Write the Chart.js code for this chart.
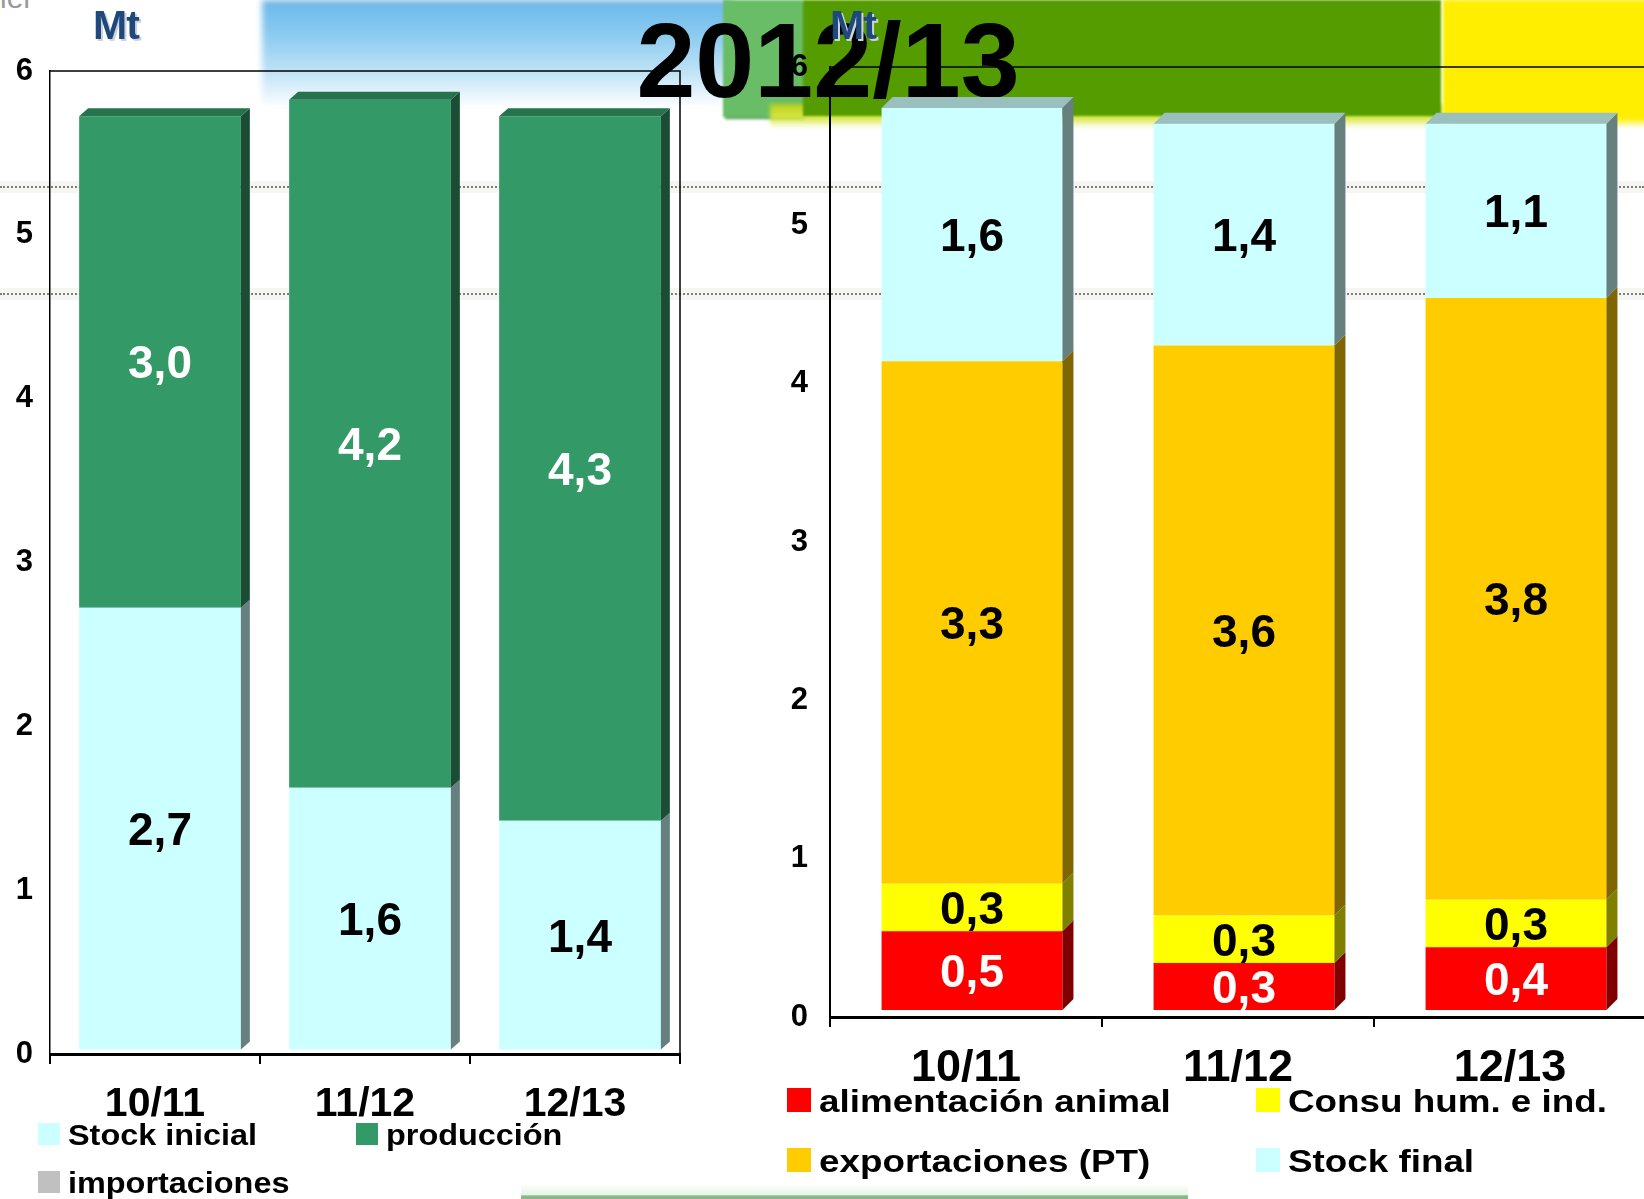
<!DOCTYPE html>
<html>
<head>
<meta charset="utf-8">
<title>2012/13</title>
<script src="https://cdn.jsdelivr.net/npm/chart.js@4.4.1/dist/chart.umd.min.js"></script>
<style>
  html, body { margin: 0; padding: 0; background: #fff; overflow: hidden; }
  body { position: relative; width: 1644px; height: 1199px; font-family: "Liberation Sans", Arial, sans-serif; }
  .deco { position: absolute; }
  #bandBlue { left: 262px; top: 0; width: 470px; height: 112px; filter: blur(3px);
    background: linear-gradient(to bottom, #7aaed8 0px, #6fbbec 6px, #8ccbf0 35px, #c4e5f7 75px, #ffffff 108px); }
  #bandLeaf { left: 723px; top: 0; width: 80px; height: 117px; background: #69bd67;
    box-shadow: 2px 2px 2px #4f9b4f; filter: blur(1px); }
  #bandGlow { left: 770px; top: 104px; width: 672px; height: 24px; filter: blur(2px);
    background: linear-gradient(to bottom, #b8cf1c, #d8e640 55%, rgba(255,255,255,0)); }
  #bandGreen { left: 803px; top: 0; width: 638px; height: 116px; background: #559c00; filter: blur(1px); }
  #bandYellow { left: 1443px; top: 0; width: 210px; height: 128px; filter: blur(1.5px);
    background: linear-gradient(to bottom, #ffee00 0px, #ffee00 118px, rgba(255,255,255,0)); }
  .rule { left: 0; width: 1644px; height: 12px; background: rgba(215,215,205,0.25); }
  .rule::after { content: ""; position: absolute; left: 0; right: 0; top: 5px; border-top: 2px dotted #7d7d7d; }
  #footLine { left: 521px; top: 1184px; width: 667px; height: 15px;
    background: linear-gradient(to bottom, rgba(255,255,255,0), #e6f5e4 70%, #8ab78a 80%, #8ab78a 100%); }
  #cut { position: absolute; left: 0; top: -17px; font-size: 30px; line-height: 1; color: #9a9a9a; }
  .wrap { position: absolute; top: 0; }
  #supplyWrap { left: 0; width: 700px; height: 1140px; }
  #useWrap { left: 760px; width: 886px; height: 1100px; }
  #title { position: absolute; left: 828px; top: 7px; transform: translateX(-50%);
    font-size: 106px; font-weight: bold; line-height: 1; color: #000; white-space: nowrap; }
  .unit { position: absolute; top: 5px; font-size: 41px; font-weight: bold; line-height: 1;
    color: #1f497d; text-shadow: 2px 2px 0 #cfd3da; letter-spacing: -1px; }
  .legend-swatch { position: absolute; }
  .legend-text { position: absolute; font-weight: bold; line-height: 1; color: #000;
    white-space: nowrap; transform-origin: left center; }
</style>
</head>
<body>
<div class="deco" id="bandBlue"></div>
<div class="deco" id="bandLeaf"></div>
<div class="deco" id="bandGlow"></div>
<div class="deco" id="bandGreen"></div>
<div class="deco" id="bandYellow"></div>
<div class="deco rule" style="top:181px"></div>
<div class="deco rule" style="top:288px"></div>
<div class="deco" id="footLine"></div>
<div id="cut">ier</div>

<div class="wrap" id="supplyWrap"><canvas id="supply" width="700" height="1140"></canvas></div>
<div id="title">2012/13</div>
<div class="wrap" id="useWrap"><canvas id="use" width="886" height="1100"></canvas></div>

<div class="unit" style="left:93px">Mt</div>
<div class="unit" style="left:830px">Mt</div>
<div id="supplyLegend"></div>
<div id="useLegend"></div>

<script>
// Campaigns on the x axis, values in Mt
const campaigns = ['10/11', '11/12', '12/13'];
const yTicks = [0, 1, 2, 3, 4, 5, 6];

// Supply: opening stock + production (+ imports)
const stockInicial = [2.7, 1.6, 1.4];
const produccion = [3.0, 4.2, 4.3];
const importaciones = [0, 0, 0];

// Uses: feed, food/industry, exports, closing stock
const alimentacionAnimal = [0.5, 0.3, 0.4];
const consumoHumano = [0.3, 0.3, 0.3];
const exportaciones = [3.3, 3.6, 3.8];
const stockFinal = [1.6, 1.4, 1.1];

const FONT = '"Liberation Sans", Arial, sans-serif';

// darken a #rrggbb colour by factor k
function shade(hex, k) {
    const n = parseInt(hex.slice(1), 16);
    const r = Math.round(((n >> 16) & 255) * k);
    const g = Math.round(((n >> 8) & 255) * k);
    const b = Math.round((n & 255) * k);
    return `rgb(${r},${g},${b})`;
}

// thin box around the plot area (top and right sides, the axes draw the rest)
const plotFrame = {
    id: 'plotFrame',
    beforeDatasetsDraw(chart) {
        const { ctx, chartArea: a } = chart;
        ctx.save();
        ctx.strokeStyle = '#000';
        ctx.lineWidth = 1.5;
        ctx.beginPath();
        ctx.moveTo(a.left, a.top);
        ctx.lineTo(a.right, a.top);
        ctx.lineTo(a.right, a.bottom);
        ctx.stroke();
        ctx.restore();
    }
};

// fake 3D: side + top faces for each stack, then the value in every segment
const depthBars = {
    id: 'depthBars',
    beforeDatasetsDraw(chart, args, opts) {
        chart.ctx.save();
        chart.ctx.translate(opts.shiftX, -opts.shiftY);
    },
    afterDatasetsDraw(chart, args, opts) {
        const ctx = chart.ctx;
        const { dx, dy } = opts;

        chart.data.labels.forEach((label, i) => {
            let top = null;
            chart.data.datasets.forEach((ds, d) => {
                if (!ds.data[i]) return;
                const bar = chart.getDatasetMeta(d).data[i].getProps(['x', 'y', 'base', 'width'], true);
                const right = bar.x + bar.width / 2;
                ctx.fillStyle = shade(ds.backgroundColor, 0.5);
                ctx.beginPath();
                ctx.moveTo(right, bar.base);
                ctx.lineTo(right, bar.y);
                ctx.lineTo(right + dx, bar.y - dy);
                ctx.lineTo(right + dx, bar.base - dy);
                ctx.closePath();
                ctx.fill();
                top = { bar, ds };
            });
            if (top) {
                const { bar, ds } = top;
                const left = bar.x - bar.width / 2;
                const right = bar.x + bar.width / 2;
                ctx.fillStyle = shade(ds.backgroundColor, 0.75);
                ctx.beginPath();
                ctx.moveTo(left, bar.y);
                ctx.lineTo(left + dx, bar.y - dy);
                ctx.lineTo(right + dx, bar.y - dy);
                ctx.lineTo(right, bar.y);
                ctx.closePath();
                ctx.fill();
            }
        });

        ctx.font = `bold ${opts.fontSize}px ${FONT}`;
        ctx.textAlign = 'center';
        ctx.textBaseline = 'alphabetic';
        chart.data.datasets.forEach((ds, d) => {
            chart.getDatasetMeta(d).data.forEach((el, i) => {
                const v = ds.data[i];
                if (!v) return;
                const { x, y, base } = el.getProps(['x', 'y', 'base'], true);
                ctx.fillStyle = ds.valueColor;
                ctx.fillText(v.toFixed(1).replace('.', ','), x, (y + base) / 2 + opts.fontSize * 0.358);
            });
        });
        ctx.restore();
    }
};

function makeOptions(cfg) {
    return {
        responsive: false,
        animation: false,
        layout: { padding: { top: cfg.top, right: cfg.right, bottom: 0, left: 0 } },
        plugins: {
            legend: { display: false },
            tooltip: { enabled: false },
            depthBars: { dx: cfg.dx, dy: cfg.dy, shiftX: cfg.shiftX, shiftY: cfg.shiftY, fontSize: 46 }
        },
        scales: {
            x: {
                stacked: true,
                grid: { display: true, drawOnChartArea: false, drawTicks: true, tickLength: 10, color: '#000', lineWidth: 2 },
                border: { display: true, color: '#000', width: 3 },
                ticks: { color: '#000', padding: cfg.xPad, maxRotation: 0, font: { family: FONT, weight: 'bold', size: cfg.xFont } },
                afterFit(scale) { scale.height = cfg.xHeight; }
            },
            y: {
                stacked: true,
                min: yTicks[0],
                max: yTicks[yTicks.length - 1],
                grid: { display: true, drawOnChartArea: false, drawTicks: false },
                border: { display: true, color: '#000', width: cfg.yBorder },
                ticks: { stepSize: 1, color: '#000', padding: cfg.yPad, font: { family: FONT, weight: 'bold', size: cfg.yFont } },
                afterFit(scale) { scale.width = cfg.yWidth; }
            }
        }
    };
}

const supplyData = {
    labels: campaigns,
    datasets: [
        { label: 'Stock inicial', data: stockInicial, backgroundColor: '#ccffff', valueColor: '#000' },
        { label: 'producción', data: produccion, backgroundColor: '#339966', valueColor: '#fff' },
        { label: 'importaciones', data: importaciones, backgroundColor: '#c0c0c0', valueColor: '#000' }
    ]
};
supplyData.datasets.forEach(ds => { ds.barPercentage = 0.77; ds.categoryPercentage = 1; ds.borderWidth = 0; });

const useData = {
    labels: campaigns,
    datasets: [
        { label: 'alimentación animal', data: alimentacionAnimal, backgroundColor: '#ff0000', valueColor: '#fff' },
        { label: 'Consu hum. e ind.', data: consumoHumano, backgroundColor: '#ffff00', valueColor: '#000' },
        { label: 'exportaciones (PT)', data: exportaciones, backgroundColor: '#ffcc00', valueColor: '#000' },
        { label: 'Stock final', data: stockFinal, backgroundColor: '#ccffff', valueColor: '#000' }
    ]
};
useData.datasets.forEach(ds => { ds.barPercentage = 0.665; ds.categoryPercentage = 1; ds.borderWidth = 0; });

const supplyChart = new Chart(document.getElementById('supply'), {
    type: 'bar',
    data: supplyData,
    options: makeOptions({ top: 71, right: 20, xHeight: 86, xPad: 16, xFont: 41,
        yWidth: 50, yPad: 17, yFont: 31, yBorder: 1.5, dx: 9, dy: 8, shiftX: 5, shiftY: 4 }),
    plugins: [plotFrame, depthBars]
});

const useChart = new Chart(document.getElementById('use'), {
    type: 'bar',
    data: useData,
    options: makeOptions({ top: 67, right: 0, xHeight: 83, xPad: 15, xFont: 45,
        yWidth: 70, yPad: 22, yFont: 31, yBorder: 2, dx: 11, dy: 11, shiftX: 6, shiftY: 6.5 }),
    plugins: [plotFrame, depthBars]
});

// HTML legends built from the chart datasets
function buildLegend(id, chart, spec) {
    const box = document.getElementById(id);
    chart.data.datasets.forEach((ds, k) => {
        const [sx, sy] = spec.slots[k];
        const sw = document.createElement('div');
        sw.className = 'legend-swatch';
        sw.style.cssText = `left:${sx}px;top:${sy}px;width:${spec.size}px;height:${spec.size}px;background:${ds.backgroundColor}`;
        box.appendChild(sw);

        const tx = document.createElement('div');
        tx.className = 'legend-text';
        tx.textContent = ds.label;
        const baseline = sy + spec.size;
        tx.style.cssText = `left:${sx + spec.size + spec.gap}px;top:${baseline - spec.fontSize * 0.8465}px;` +
            `font-size:${spec.fontSize}px;transform:scaleX(${spec.stretch})`;
        box.appendChild(tx);
    });
}

buildLegend('supplyLegend', supplyChart, {
    slots: [[38, 1123], [356, 1123], [38, 1171]], size: 22, gap: 8, fontSize: 30, stretch: 1.08
});
buildLegend('useLegend', useChart, {
    slots: [[787, 1088], [1256, 1088], [787, 1148], [1256, 1148]], size: 24, gap: 8, fontSize: 32, stretch: 1.15
});
</script>
</body>
</html>
